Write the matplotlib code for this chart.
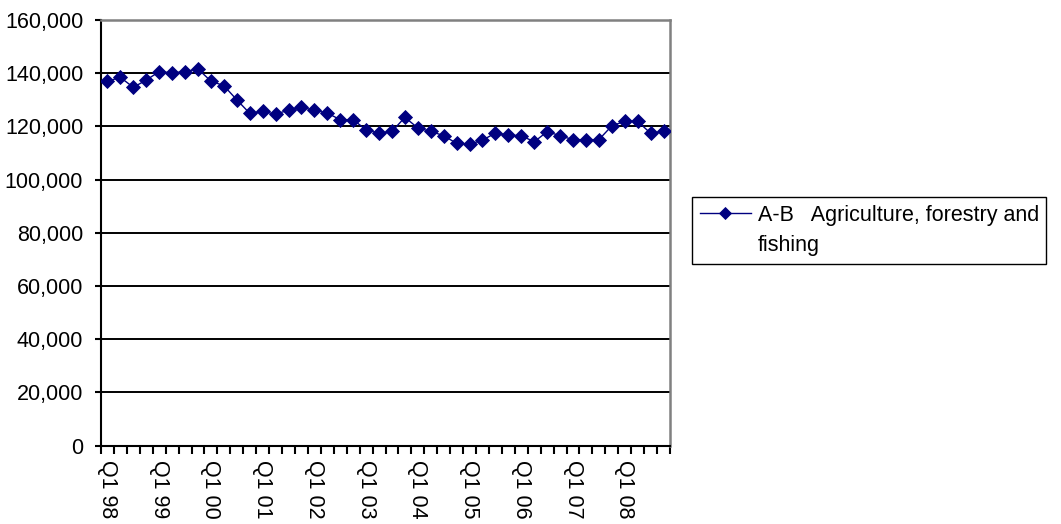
import numpy as np
import matplotlib
matplotlib.use("Agg")
import matplotlib.pyplot as plt
from matplotlib.ticker import FuncFormatter, FixedLocator, NullFormatter
from matplotlib.lines import Line2D

plt.rcParams['font.family'] = ['Liberation Sans', 'DejaVu Sans']

# Quarterly employment, Q1 1998 - Q4 2008
years = ["98", "99", "00", "01", "02", "03", "04", "05", "06", "07", "08"]
quarters = [f"Q{q} {y}" for y in years for q in range(1, 5)]
series_label = "A-B   Agriculture, forestry and"
series_label_cont = "fishing"
values = [
    137000, 138400, 134700, 137400,
    140600, 140100, 140600, 141600,
    137000, 135300, 130000, 124900,
    125600, 124600, 126100, 127100,
    126100, 125000, 122500, 122500,
    118700, 117400, 118100, 123400,
    119400, 118100, 116500, 113600,
    113300, 114800, 117500, 116700,
    116500, 114200, 118000, 116500,
    115000, 115000, 115000, 120200,
    121900, 121900, 117400, 118100,
]
y_ticks = list(range(0, 160001, 20000))

FS = 15.5
W, H = 1061, 524
fig = plt.figure(figsize=(W / 100, H / 100), dpi=100)
ax = fig.add_axes([101 / W, (H - 445.5) / H, (670 - 101) / W, (445.5 - 20) / H])

navy = "#000080"
x = np.arange(len(values))
line, = ax.plot(x, values, color=navy, lw=1.0, marker="D", ms=7.2,
                mfc=navy, mec=navy, mew=0.6, zorder=3)

ax.set_xlim(-0.5, len(values) - 0.5)
ax.set_ylim(0, 160000)
ax.set_yticks(y_ticks)
ax.yaxis.set_major_formatter(FuncFormatter(lambda v, p: f"{int(v):,}"))
ax.yaxis.grid(True, color="black", lw=1.4, zorder=1)
ax.set_axisbelow(True)

# category boundaries carry the tick marks; year labels sit on each Q1
ax.xaxis.set_major_locator(FixedLocator(np.arange(-0.5, len(values), 1)))
ax.xaxis.set_major_formatter(NullFormatter())
q1_pos = [i for i, q in enumerate(quarters) if q.startswith("Q1")]
ax.xaxis.set_minor_locator(FixedLocator(q1_pos))
ax.set_xticklabels([quarters[i] for i in q1_pos], minor=True,
                   rotation=270, va="top", ha="center", fontsize=FS)
ax.tick_params(axis="x", which="minor", length=0, pad=10.5)
ax.tick_params(axis="x", which="major", length=5.5, width=1.5, direction="out")
ax.tick_params(axis="y", which="major", length=4.3, width=1.5, direction="out",
               pad=8.5, labelsize=FS)

for s in ("left", "bottom"):
    ax.spines[s].set_color("black")
    ax.spines[s].set_linewidth(1.5)
for s in ("top", "right"):
    ax.spines[s].set_color("#808080")
    ax.spines[s].set_linewidth(1.8)

blank = Line2D([], [], linestyle="none")
leg = fig.legend([line, blank], [series_label, series_label_cont],
                 loc="upper left", bbox_to_anchor=(692 / W, 1 - 197 / H),
                 bbox_transform=fig.transFigure, borderaxespad=0,
                 fancybox=False, framealpha=1, edgecolor="black",
                 fontsize=FS, handlelength=2.4, handletextpad=0.3,
                 borderpad=0.35, labelspacing=0.45, markerscale=0.8)
leg.get_frame().set_linewidth(1.0)

fig.savefig("out.png", dpi=100)
